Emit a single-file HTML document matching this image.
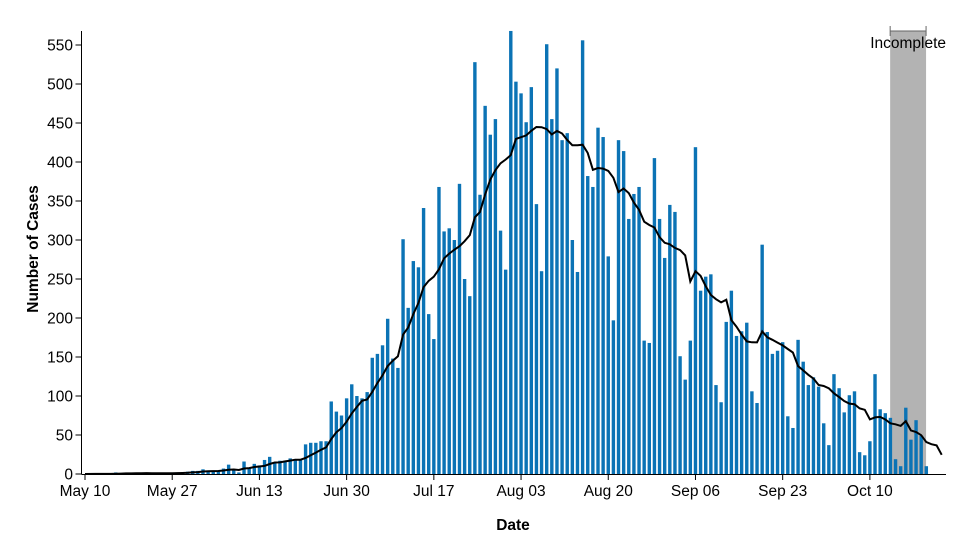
<!DOCTYPE html>
<html><head><meta charset="utf-8">
<style>
html,body{margin:0;padding:0;background:#fff;}
svg{display:block;font-family:"Liberation Sans",Arial,sans-serif;}
</style></head>
<body>
<svg id="chart" width="959" height="545" viewBox="0 0 959 545" xmlns="http://www.w3.org/2000/svg">
<g id="band"></g>
<g id="bars"></g>
<path id="avg" fill="none" stroke="#000" stroke-width="2"/>
<g id="yaxis"></g>
<g id="xaxis"></g>
<text transform="translate(38,249) rotate(-90)" text-anchor="middle" font-size="15.5" font-weight="bold">Number of Cases</text>
<text x="513" y="530" text-anchor="middle" font-size="15.5" font-weight="bold">Date</text>
</svg>
<script>
// day offset of first bar from May 10
const firstDay = 2;
const cases = [1,0,0,0,2,1,1,1,1,1,1,1,1,1,1,1,2,2,
3,4,4,6,3,4,3,7,12,5,2,16,8,13,11,18,22,15,17,17,20,19,18,38,40,40,42,42,
93,80,75,97,115,100,97,105,149,154,165,199,148,136,301,213,273,265,341,205,173,368,311,315,300,372,250,228,
528,358,472,435,455,312,262,568,503,488,451,496,346,260,551,455,520,428,437,300,259,556,382,368,444,432,279,
197,428,414,327,359,368,171,168,405,327,277,345,336,151,121,171,419,235,253,256,114,92,195,235,177,183,194,
106,91,294,182,154,158,169,74,59,172,144,114,124,112,65,37,128,110,79,101,106,28,24,42,128,83,78,72,19,10,85,44,69,49,10];
const xTickLabels = ["May 10","May 27","Jun 13","Jun 30","Jul 17","Aug 03","Aug 20","Sep 06","Sep 23","Oct 10"];
const xTickDays = [0,17,34,51,68,85,102,119,136,153];
const yTicks = [0,50,100,150,200,250,300,350,400,450,500,550];
const incompleteRange = [156.95, 163.95];
const avgWindow = 7;
const avgExtraDays = 3;

const NS = "http://www.w3.org/2000/svg";
const X0 = 85, DX = 5.13, Y0 = 474, YTOP = 45, YMAX = 550;
const x = d => X0 + d * DX;
const y = v => Y0 - v * (Y0 - YTOP) / YMAX;
function mk(tag, attrs, parent){const e=document.createElementNS(NS,tag);for(const k in attrs)e.setAttribute(k,attrs[k]);parent.appendChild(e);return e;}

const band = document.getElementById('band');
const bx0 = x(incompleteRange[0]), bx1 = x(incompleteRange[1]);
const rect = mk('rect',{x:bx0,y:31,width:bx1-bx0,height:Y0-31,fill:'#b3b3b3'},band);


const br = mk('path',{d:`M${bx0},26V36M${bx0},31H${bx1}M${bx1},26V36`,stroke:'#666',fill:'none','stroke-width':1},band);


const bt = mk('text',{x:(bx0+bx1)/2,y:48,'text-anchor':'middle','font-size':15.5,fill:'#000'},band);
bt.textContent = 'Incomplete';



const bars = document.getElementById('bars');
cases.forEach((v,i)=>{
  const d = firstDay + i;
  const b = mk('rect',{x:x(d)-1.7,y:y(v),width:3.4,height:Math.max(0,Y0-y(v)),fill:'#0b73b5'},bars);
  
  
});

const pts = [];
const n = cases.length + avgExtraDays;
for(let i=0;i<n;i++){
  let s=0;
  for(let k=i-avgWindow+1;k<=i;k++){ if(k>=0 && k<cases.length) s+=cases[k]; }
  const avg = s/avgWindow;
  pts.push(x(firstDay+i).toFixed(1)+','+y(avg).toFixed(1));
}
document.getElementById('avg').setAttribute('d','M'+x(0).toFixed(1)+','+Y0+'L'+pts.join('L'));

const ya = document.getElementById('yaxis');
mk('line',{x1:81.5,x2:81.5,y1:31,y2:Y0,stroke:'#000'},ya);
yTicks.forEach(t=>{
  mk('line',{x1:75.5,x2:81.5,y1:y(t),y2:y(t),stroke:'#000'},ya);
  const tx = mk('text',{x:73,y:y(t)+5.5,'text-anchor':'end','font-size':15.5},ya);
  tx.textContent = t;
  
  
});

const xa = document.getElementById('xaxis');
mk('line',{x1:81.5,x2:946,y1:Y0+0.5,y2:Y0+0.5,stroke:'#000'},xa);
xTickDays.forEach((d,i)=>{
  mk('line',{x1:x(d),x2:x(d),y1:Y0,y2:Y0+6,stroke:'#000'},xa);
  const tx = mk('text',{x:x(d),y:Y0+22,'text-anchor':'middle','font-size':15.5},xa);
  tx.textContent = xTickLabels[i];
  
  
});
</script>
</body></html>
